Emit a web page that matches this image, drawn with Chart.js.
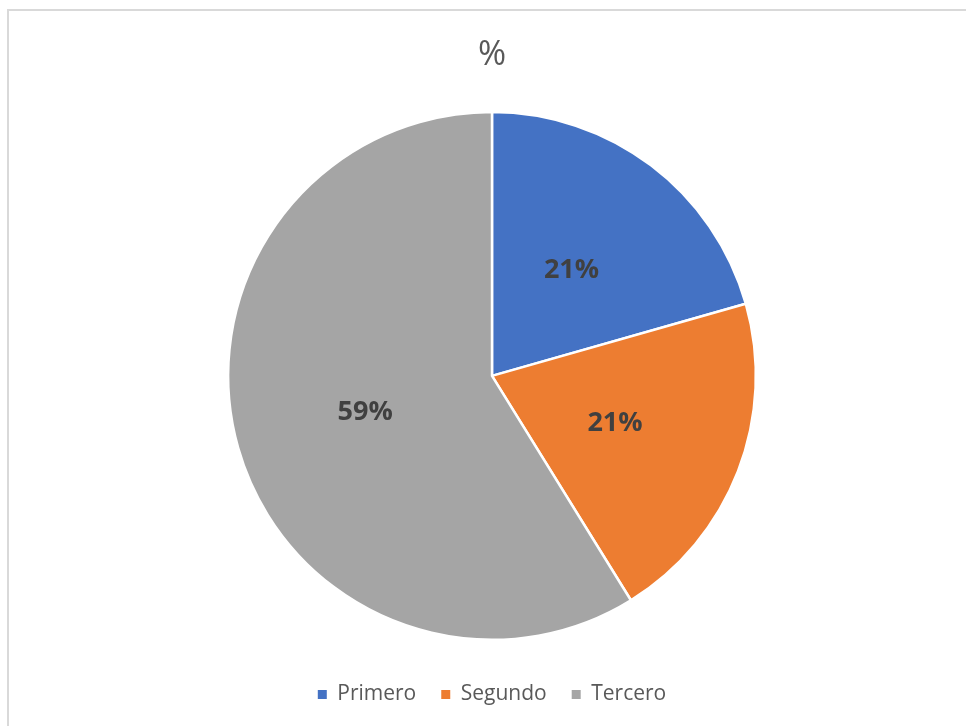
<!DOCTYPE html>
<html>
<head>
<meta charset="utf-8">
<script src="https://cdn.jsdelivr.net/npm/chart.js@4"></script>
<style>
  html, body { margin: 0; padding: 0; background: #fff; overflow: hidden; }
  #frame {
    position: absolute; left: 7px; top: 9px; width: 1000px; height: 800px;
    border-left: 2px solid #d9d9d9; border-top: 2px solid #d9d9d9;
  }
  #wrap { position: absolute; left: 0; top: 0; width: 966px; height: 726px; }
</style>
</head>
<body>
<div id="frame"></div>
<div id="wrap"><canvas id="pieChart"></canvas></div>
<script>
const labels = ["Primero", "Segundo", "Tercero"];
const counts = [7, 7, 20];
const percentLabels = ["21%", "21%", "59%"];
const colors = ["#4472c4", "#ed7d31", "#a5a5a5"];

// draws the percent text in the middle of each slice
const sliceLabels = {
  id: "sliceLabels",
  afterDatasetsDraw(chart) {
    const ctx = chart.ctx;
    const meta = chart.getDatasetMeta(0);
    ctx.save();
    ctx.font = "bold 27px 'Open Sans', sans-serif";
    ctx.fillStyle = "#404040";
    ctx.textAlign = "center";
    ctx.textBaseline = "middle";
    meta.data.forEach((arc, i) => {
      const p = arc.getCenterPoint();
      ctx.fillText(percentLabels[i], p.x, p.y);
    });
    ctx.restore();
  },
};

const defaultLabels = Chart.controllers.pie.overrides.plugins.legend.labels.generateLabels;

new Chart(document.getElementById("pieChart"), {
  type: "pie",
  data: {
    labels,
    datasets: [
      {
        data: counts,
        backgroundColor: colors,
        borderColor: "#ffffff",
        borderWidth: 2.5,
      },
    ],
  },
  options: {
    responsive: true,
    maintainAspectRatio: false,
    animation: false,
    layout: {
      padding: { left: 18, right: 0, top: 0, bottom: 11 },
    },
    plugins: {
      title: {
        display: true,
        text: "%",
        color: "#595959",
        font: { family: "'Open Sans', sans-serif", size: 34, weight: "normal" },
        padding: { top: 35, bottom: 35 },
      },
      legend: {
        position: "bottom",
        // empty legend title only used as a gap above the items
        title: {
          display: true,
          text: " ",
          font: { size: 10 },
          padding: { top: 6, bottom: 0 },
        },
        labels: {
          color: "#595959",
          font: { family: "'Open Sans', sans-serif", size: 21 },
          boxWidth: 9,
          boxHeight: 9,
          padding: 25,
          generateLabels(chart) {
            return defaultLabels(chart).map((item) => ({ ...item, lineWidth: 0 }));
          },
        },
      },
      tooltip: { enabled: false },
    },
  },
  plugins: [sliceLabels],
});
</script>
</body>
</html>
